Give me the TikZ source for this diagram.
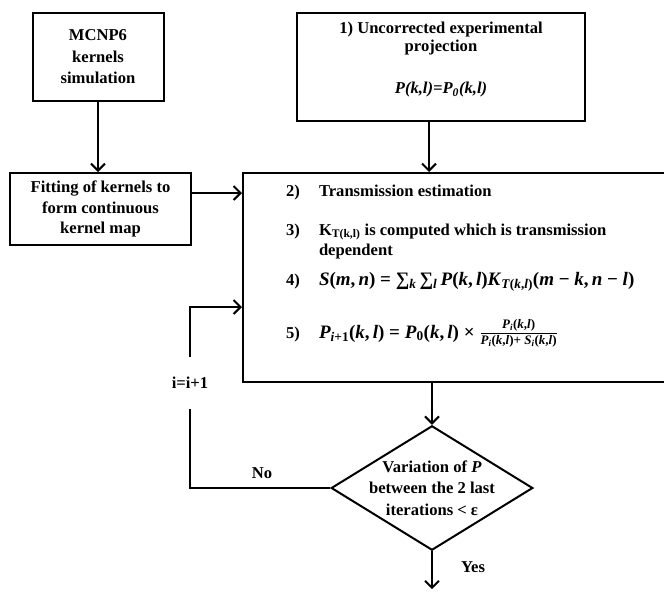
\documentclass[tikz,border=0pt]{standalone}
\usepackage{amsmath}
\usepackage{fontspec}
\setmainfont{Liberation Serif}
\usetikzlibrary{shapes.geometric,arrows.meta}
\newcommand{\iv}[1]{\textit{#1}}
\newcommand{\smallfr}[2]{$\genfrac{}{}{1.4pt}{}{\mbox{\fontsize{13}{13}\selectfont#1}}{\mbox{\fontsize{13}{13}\selectfont#2}}$}
\newcommand{\convsum}{\iv{S}(\iv{m},\,\iv{n}) = ∑\textsubscript{\iv{k}}\,∑\textsubscript{\iv{l}}\,\iv{P}(\iv{k},\,\iv{l})\iv{K}\textsubscript{\iv{T}(\iv{k},\iv{l})}(\iv{m} − \iv{k},\,\iv{n} − \iv{l})}
\newcommand{\iterstep}{\iv{P}\textsubscript{\iv{i}+1}(\iv{k},\,\iv{l}) = \iv{P}\textsubscript{0}(\iv{k},\,\iv{l}) × \smallfr{\iv{P}\textsubscript{\iv{i}}(\iv{k},\iv{l})}{\iv{P}\textsubscript{\iv{i}}(\iv{k},\iv{l})+ \iv{S}\textsubscript{\iv{i}}(\iv{k},\iv{l})}}

\begin{document}
\begin{tikzpicture}
  [x=1pt, y=-1pt, line width=2pt,
   every node/.style={font=\fontsize{16.6}{21.5}\selectfont\bfseries, inner sep=0pt},
   box/.style={draw, rectangle, align=center},
   decide/.style={draw, diamond, aspect=1.62, inner sep=-2.5pt, align=center},
   item/.style={anchor=base west},
   formula/.style={anchor=base west, font=\fontsize{19}{21.5}\selectfont\bfseries},
   lbl/.style={align=center},
   flow/.style={-{Straight Barb[length=7pt,width=14pt]}}]
  \useasboundingbox (0,0) rectangle (664,592);
  % boxes
  \node[box, minimum width=131pt, minimum height=88pt] (mcnp) at (98,57) {MCNP6\\kernels\\simulation};
  \node[box, minimum width=181pt, minimum height=72pt] (fit) at (100.5,209) {Fitting of kernels to\\[-1pt]form continuous\\[-1pt]kernel map};
  \node[box, minimum width=288pt, minimum height=108pt] (proj) at (441,67)
     {1) Uncorrected experimental\\[-3.5pt]projection\\[21pt]\textit{P(k,l)=P\textsubscript{0}(k,l)}\\[-3pt]\mbox{}};
  \node[box, minimum width=423pt, minimum height=209pt] (main) at (454.5,277.5) {};
  % steps in the main box
  \node[item] at (285,196) {2)};
  \node[item] at (318,196) {Transmission estimation};
  \node[item] at (285,235) {3)};
  \node[item] at (318,235) {K\textsubscript{T(k,l)} is computed which is transmission};
  \node[item] at (318,255) {dependent};
  \node[item] at (285,285) {4)};
  \node[formula] at (318,285) {\convsum};
  \node[item] at (285,338) {5)};
  \node[formula] at (318,338) {\iterstep};
  % decision
  \node[decide] (dec) at (432,488) {Variation of \textit{P}\\between the 2 last\\iterations < ε};
  \node[lbl] (yes) at (473,567) {Yes};
  \node[lbl] (no) at (262,473) {No};
  \node[lbl, minimum height=50pt] (inc) at (190,383) {i=i+1};
  % connectors
  \draw[flow] (mcnp.south) -- (mcnp.south |- fit.north);
  \coordinate (in1) at (main.west |- 0,193);
  \draw[flow] (fit.east |- in1) -- (in1);
  \coordinate (p1) at ([xshift=-12pt]proj.south);
  \draw[flow] (p1) -- (p1 |- main.north);
  \draw[flow] (main.south -| dec.north) -- (dec.north);
  \draw[flow] (dec.south) -- ++(0,38);
  \draw (dec.west) -| (inc.south);
  \coordinate (in2) at (main.west |- 0,307);
  \draw[flow] (inc.north) |- (in2);
\end{tikzpicture}
\end{document}
